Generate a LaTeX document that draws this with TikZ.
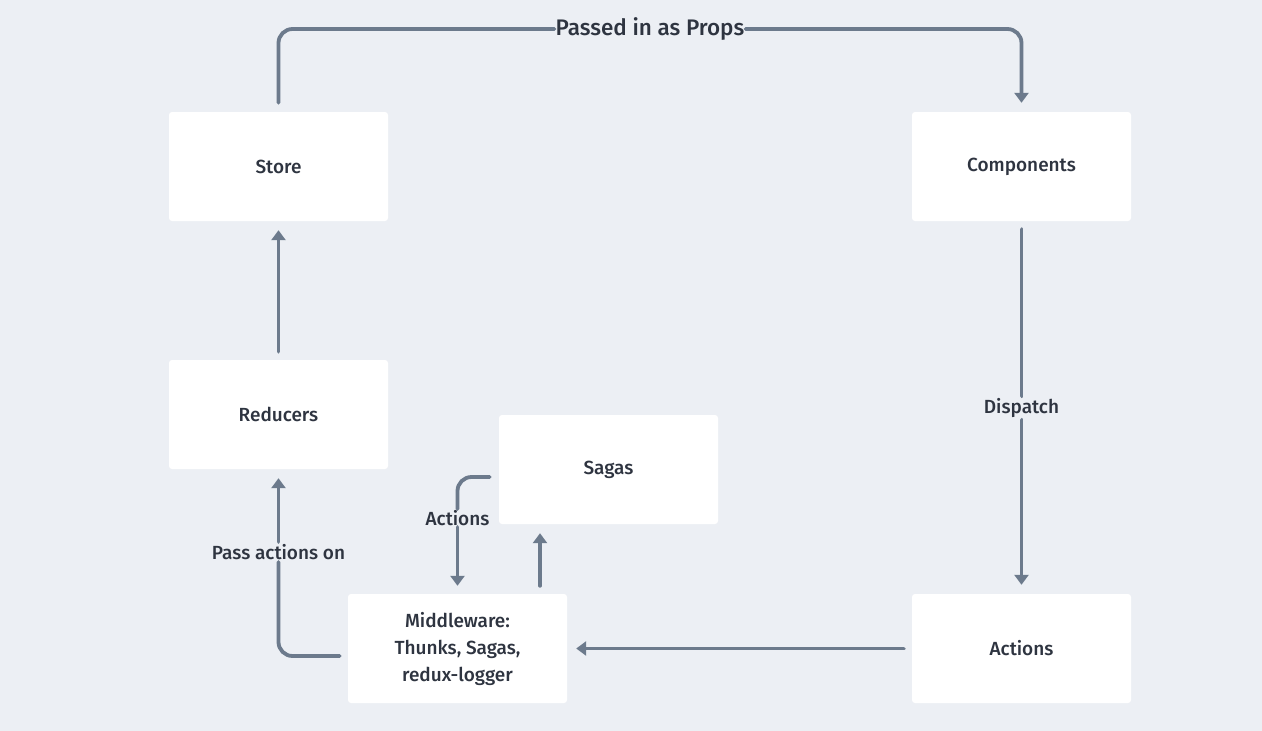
\documentclass[tikz,border=0pt]{standalone}
\usepackage{fontspec}
\setmainfont{Fira Sans}[UprightFont={* Medium}]
\usetikzlibrary{arrows.meta,calc}
\definecolor{bg}{HTML}{ECEFF4}
\definecolor{ln}{HTML}{6C7A8C}
\definecolor{tx}{HTML}{2E3440}
\tikzset{
  box/.style={fill=white, rounded corners=3pt, minimum width=219pt, minimum height=109pt, inner sep=0pt, text=tx, font=\fontsize{19}{27}\selectfont, align=center},
  lbl/.style={fill=bg, text=tx, inner sep=2pt, font=\fontsize{19}{23}\selectfont},
  conn/.style={draw=ln, line width=3.8pt, line cap=round, rounded corners=14pt},
  arr/.style={conn, -{Triangle[width=14pt,length=10pt]}}
}
\begin{document}
\begin{tikzpicture}[x=1pt,y=-1pt]
\fill[bg] (0,0) rectangle (1262,731);
\useasboundingbox (0,0) rectangle (1262,731);
\node[box] (store) at (278.5,166.5) {Store};
\node[box] (comp) at (1021.5,166.5) {Components};
\node[box] (red) at (278.5,414.5) {Reducers};
\node[box] (sagas) at (608.5,469.5) {Sagas};
\node[box] (mid) at (457.5,648.5) {Middleware:\\Thunks, Sagas,\\redux-logger};
\node[box] (act) at (1021.5,648.5) {Actions};
% labels
\node[lbl, font=\fontsize{22.5}{26}\selectfont, inner sep=1pt] (props) at (650,29) {Passed in as Props};
\node[lbl] (disp) at (1021.5,408) {Dispatch};
\node[lbl] (passon) at (278.5,552) {Pass actions on};
\node[lbl, inner sep=1pt] (sact) at (457.5,518) {Actions};
% connectors
\draw[conn] ([yshift=9pt]store.north) |- (props.west);
\draw[arr] (props.east) -| ([yshift=9pt]comp.north);
\draw[conn] ([yshift=-8pt]comp.south) -- (disp.north);
\draw[arr] (disp.south) -- ([yshift=9pt]act.north);
\draw[arr] ([xshift=-8pt]act.west) -- ([xshift=9pt]mid.east);
\draw[conn] ([xshift=-8pt,yshift=-7.5pt]mid.west) -| (passon.south);
\draw[arr] (passon.north) -- ([yshift=-9pt]red.south);
\draw[arr] ([yshift=8pt]red.north) -- ([yshift=-9pt]store.south);
\draw[conn] ([xshift=-9pt,yshift=-7.5pt]sagas.west) -| (sact.north);
\draw[arr] (sact.south) -- ([yshift=8pt]mid.north);
\coordinate (m2) at ([xshift=82.5pt]mid.north);
\draw[arr] ([yshift=8pt]m2) -- ([yshift=-9pt]sagas.south -| m2);
\end{tikzpicture}
\end{document}
